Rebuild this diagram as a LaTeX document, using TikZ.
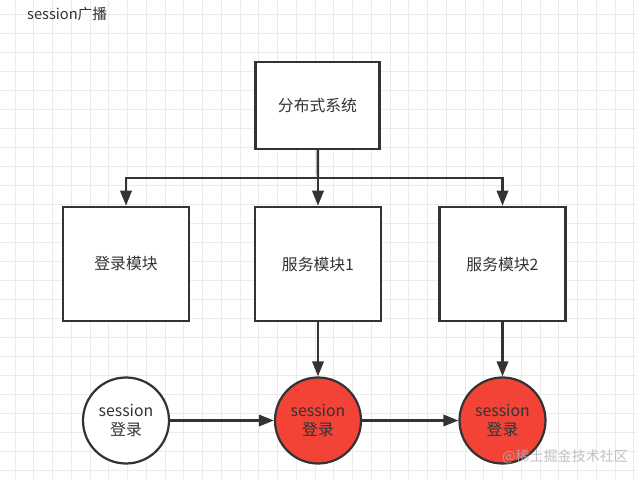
\documentclass[tikz,border=0pt]{standalone}
\usepackage{fontspec}
\setmainfont{Noto Sans CJK SC}
\usetikzlibrary{arrows.meta}

\definecolor{inkgray}{HTML}{333333}
\definecolor{sessred}{HTML}{F24336}
\definecolor{gridgray}{HTML}{EBEBEB}

\tikzset{
  modbox/.style={draw=inkgray, line width=2.2pt, fill=white, minimum width=3.78cm,
    minimum height=3.42cm, text=inkgray, font=\fontsize{13.5}{16}\selectfont},
  sessnode/.style={circle, draw=inkgray, line width=1.9pt, fill=white, minimum size=2.58cm,
    inner sep=0pt, align=center, text=inkgray, font=\fontsize{13.5}{17}\selectfont},
  link/.style={draw=inkgray, line width=2.1pt},
  arr/.style={link, -{Triangle[length=0.45cm,width=0.34cm]}}
}

\begin{document}
\begin{tikzpicture}[x=0.03cm, y=-0.03cm]

  \useasboundingbox (0,0) rectangle (637,479);
  \fill[white] (0,0) rectangle (637,479);
  % background grid
  \foreach \i in {0,...,33}
    \draw[gridgray, line width=0.6pt] ({15+18.75*\i},0) -- ({15+18.75*\i},479);
  \foreach \j in {0,...,25}
    \draw[gridgray, line width=0.6pt] (0,{14+19*\j}) -- (637,{14+19*\j});

  \node[anchor=west, text=inkgray, font=\fontsize{12.5}{15}\selectfont, inner sep=0pt] (title) at (27,14) {session广播};

  \node[modbox, minimum width=3.72cm, minimum height=2.6cm] (dist) at (317.5,105.5) {分布式系统};
  \node[modbox] (login) at (126,264) {登录模块};
  \node[modbox] (svc1) at (318,264) {服务模块1};
  \node[modbox] (svc2) at (502.5,264) {服务模块2};

  \node[sessnode] (sess0) at (126,420.5) {session\\登录};
  \node[sessnode, fill=sessred] (sess1) at (318,420.5) {session\\登录};
  \node[sessnode, fill=sessred] (sess2) at (502.5,420.5) {session\\登录};

  \coordinate (fork) at (318,178);
  \draw[link] (dist) -- (fork);
  \draw[arr] (fork) -| (login);
  \draw[arr] (fork) -- (svc1);
  \draw[arr] (fork) -| (svc2);

  \draw[arr] (svc1) -- (sess1);
  \draw[arr] (svc2) -- (sess2);
  \draw[arr] (sess0) -- (sess1);
  \draw[arr] (sess1) -- (sess2);

  \node[anchor=west, text=gray!60, opacity=0.8, font=\fontsize{12}{14}\selectfont, inner sep=0pt] (mark) at (502,457) {@稀土掘金技术社区};

\end{tikzpicture}
\end{document}
